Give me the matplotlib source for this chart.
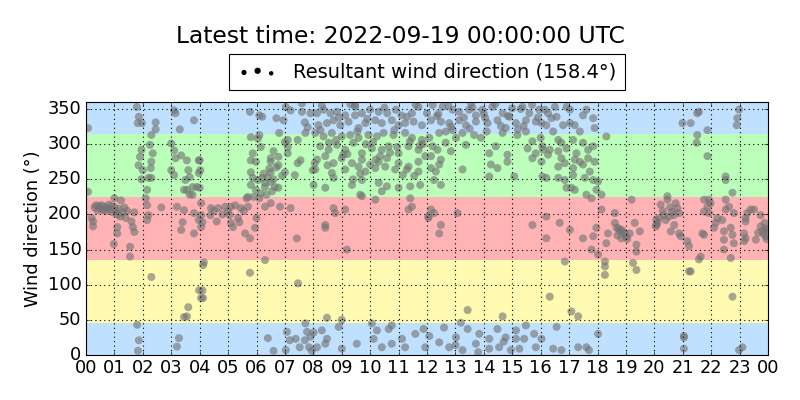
import matplotlib
matplotlib.use('Agg')
import matplotlib.pyplot as plt

# ---------------- data (hour of day, wind direction in degrees) ----------------
hours = [
    0.07, 0.07, 0.25, 0.25, 0.2, 0.3, 0.35, 0.4, 0.45, 0.5, 0.55, 0.6, 0.65, 0.7, 0.75, 0.8, 0.85, 0.9, 0.95, 0.98,
    1.0, 1.0, 1.05, 1.1, 1.1, 1.12, 1.15, 1.2, 1.23, 1.3, 1.35, 1.4, 1.45, 1.55, 1.55, 1.6, 1.65, 1.7, 1.7, 1.8,
    1.86, 1.83, 1.79, 1.86, 1.82,
    1.97, 1.95, 1.9, 1.85, 2.0, 1.95, 2.15, 2.1, 2.15, 2.2, 2.3, 2.28, 2.3, 2.35, 2.25, 2.3, 2.45, 2.45, 2.2, 2.15,
    2.3, 2.65,
    3.1, 3.15, 3.0, 3.1, 3.15, 3.35, 3.55, 3.0, 3.1, 3.5, 3.6, 3.65, 3.55, 3.45, 3.75, 3.65, 3.97, 3.97, 3.9, 3.75,
    3.2, 3.45, 3.8, 3.4, 3.35, 3.8, 3.97, 4.05, 3.6, 3.45, 3.55, 3.27, 3.2, 3.98, 4.05, 3.8, 3.3,
    4.0, 4.02, 4.0, 4.05, 4.1, 4.05, 4.4, 4.65, 4.9, 5.1, 5.45, 5.7, 5.65, 5.9, 4.38, 5.05, 5.1, 5.17, 5.35, 5.4,
    5.6, 5.77, 6.0, 5.95, 4.15, 4.12, 4.1, 4.12, 5.77, 6.3, 4.5, 4.8, 4.6, 5.0, 5.25, 5.55,
    5.8, 5.77, 6.1, 6.2, 6.05, 6.15, 6.1, 5.8, 5.87, 5.98, 6.5, 6.5, 6.77, 6.77, 6.7, 6.5, 5.8, 5.87, 6.05, 6.2,
    6.4, 6.5, 6.65, 6.77, 6.3, 6.15, 6.1, 6.5, 6.83, 6.3, 5.98, 5.8, 5.7, 6.7, 6.8, 6.95, 7.03, 7.0, 7.1, 7.1,
    7.1, 7.45, 7.45, 7.55, 7.35, 7.0, 7.2, 7.42, 7.46, 6.4, 6.6, 7.07, 7.17, 7.38, 7.52, 7.72, 7.78, 7.7, 7.9, 7.85,
    7.95, 7.03, 7.2, 7.6, 7.7, 7.72, 7.8, 7.6, 7.9, 8.05, 7.98, 6.3, 6.45, 6.6, 6.25, 6.55, 6.9, 6.35, 6.6,
    8.13, 8.36, 8.6, 8.83, 9.12, 9.47, 9.47, 9.71, 10.0, 10.3, 10.6, 10.9, 11.1, 11.47, 11.7, 12.0,
    8.18, 8.48, 8.71, 8.95, 9.24, 9.59, 9.83, 10.18, 10.41, 10.76, 11.0, 11.23, 11.53, 11.82,
    8.07, 8.36, 8.65, 9.0, 9.3, 9.59, 9.94, 10.24, 10.47, 10.82, 11.23, 11.47, 11.82,
    8.24, 8.54, 8.83, 9.12, 9.41, 9.71, 10.06, 10.41, 10.65, 11.0, 11.35, 11.7,
    8.13, 8.42, 8.71, 9.0, 9.36, 9.71, 10.0, 10.3, 10.59, 11.0, 11.35, 11.7, 11.94,
    8.07, 8.65, 9.12, 9.59, 9.83, 10.18, 10.53, 10.88, 11.29, 11.7,
    8.71, 9.71, 10.3, 11.0, 11.41, 11.76, 8.01, 8.42, 9.36, 9.65, 9.71, 10.18, 10.41, 10.59, 11.41, 11.47, 11.35,
    8.71, 8.77, 9.12, 8.42, 8.42, 9.18, 8.48, 9.0, 8.89, 8.01, 8.3, 8.48, 8.42, 8.13, 9.0, 9.53, 10.06, 10.24,
    10.12, 10.41, 10.65, 10.76, 10.76, 11.12, 11.23, 11.59, 11.88, 11.94, 12.05, 9.47,
    8.3, 8.9, 9.3, 9.9, 10.5, 11.3, 11.6, 8.55, 9.05, 9.65, 10.1, 10.7, 11.15, 11.85,
    8.25, 8.8, 9.2, 9.55, 9.85, 10.35, 10.85, 11.4, 11.75, 8.5, 9.4, 10.2, 10.95, 11.55,
    12.2, 12.55, 12.9, 13.13, 13.48, 13.72, 13.95, 14.3, 14.66, 15.0, 15.36, 15.6, 15.95,
    12.14, 12.49, 12.78, 13.13, 13.37, 13.72, 14.13, 14.48, 14.77, 15.13, 15.48, 15.83,
    12.08, 12.43, 12.66, 13.02, 13.25, 13.66, 13.9, 14.66, 15.18, 15.48, 15.71, 16.0,
    12.2, 12.37, 12.66, 12.84, 13.37, 14.19, 14.42, 14.83, 15.54, 15.83, 16.06,
    12.14, 12.49, 12.43, 12.14, 12.31, 12.25, 12.49, 13.25, 14.25, 14.48, 14.83, 14.19, 15.07, 15.71, 16.06,
    12.14, 12.25, 12.05, 13.07, 12.49, 12.43, 15.71, 13.43, 14.66,
    13.19, 12.6, 12.08, 12.43, 12.78, 13.02, 13.43, 13.84, 13.72, 14.19, 14.48, 14.77, 15.13, 15.48, 15.42,
    15.77, 15.83, 14.95, 15.25, 13.25, 14.19, 14.54, 15.13,
    12.35, 12.75, 13.3, 13.6, 14.0, 14.4, 14.9, 15.3, 15.7, 12.9, 13.5, 14.1, 14.6, 15.2,
    12.4, 12.85, 13.55, 14.05, 14.85, 15.4, 15.9, 13.0, 13.8, 14.7,
    16.15, 16.26, 16.5, 16.38, 16.56, 16.91, 17.03, 17.49, 17.61, 17.85, 17.9, 16.03, 16.2, 16.79, 17.03, 17.2,
    16.44, 17.38, 18.31, 16.62, 16.73, 17.14, 17.49, 17.85, 16.09, 16.32, 16.62, 16.91, 17.26, 17.67,
    16.03, 16.26, 16.73, 17.2, 17.38, 17.67, 17.9, 16.62, 16.85, 17.14, 17.49, 17.73,
    16.2, 16.62, 16.85, 17.14, 17.55, 17.85, 18.02, 16.91, 17.2, 17.08, 17.61, 17.79, 17.96, 18.14, 19.2,
    18.14, 18.61, 16.2, 16.67, 17.03, 17.49, 17.85, 17.96, 18.02, 17.79, 18.31, 18.37, 18.61, 18.67, 18.78,
    18.84, 18.96, 19.13, 19.31, 19.49, 19.37, 19.37, 19.25, 19.37, 18.26, 18.26, 18.26, 16.2, 16.85, 16.32,
    17.08, 17.32, 16.56, 18.02, 16.03, 16.44, 16.73, 17.32, 17.61, 17.7, 20.07, 20.07,
    18.7, 18.85, 19.0, 18.9, 19.05, 18.75,
    21.51, 21.57, 20.99, 21.28, 21.87, 21.51, 21.49, 21.87, 22.98, 22.92, 22.9, 22.51, 22.51, 22.75,
    20.46, 20.46, 20.22, 20.75, 20.81, 20.63, 20.34, 20.17, 20.11, 20.05, 20.52, 20.69, 20.87, 20.58, 20.87,
    20.93, 21.16, 21.22, 21.63, 21.57, 21.22, 21.75, 21.92, 21.98, 21.87, 21.75, 21.92, 22.22, 22.39, 22.16,
    22.1, 21.69, 21.75, 22.45, 22.45, 22.51, 22.51, 22.63, 22.8, 22.69, 22.75, 22.8, 22.45, 22.69,
    23.21, 23.27, 23.39, 23.51, 23.74, 23.21, 23.74, 23.8, 23.92, 23.98, 23.57, 23.16, 23.21, 23.16,
    22.75, 21.28, 21.04, 21.04, 21.04, 23.1, 22.98,
    20.3, 20.4, 20.55, 20.7, 23.85, 23.9, 23.95, 23.88, 23.65,
]

wind_dir = [
    323, 232, 190, 183, 195, 210, 213, 206, 212, 208, 213, 206, 211, 205, 209, 214, 207, 212, 203, 158,
    210, 223, 205, 182, 173, 200, 208, 197, 220, 203, 210, 195, 205, 154, 140, 190, 182, 203, 175, 43,
    21, 6, 353, 339, 330,
    330, 292, 282, 270, 263, 250, 235, 223, 213, 252, 252, 266, 275, 287, 299, 313, 321, 331, 199, 192,
    111, 210,
    348, 344, 301, 291, 280, 284, 277, 263, 256, 249, 263, 253, 235, 235, 239, 228, 277, 259, 239, 228,
    211, 206, 202, 189, 178, 173, 192, 182, 68, 54, 55, 24, 12, 92, 81, 334, 321,
    277, 263, 238, 199, 189, 216, 209, 209, 211, 211, 209, 211, 223, 225, 199, 199, 188, 182, 195, 189,
    173, 166, 195, 181, 132, 128, 92, 81, 117, 135, 205, 200, 190, 205, 213, 205,
    310, 346, 341, 339, 308, 296, 313, 277, 287, 275, 275, 280, 282, 270, 267, 260, 260, 252, 249, 252,
    253, 246, 239, 238, 239, 230, 223, 216, 211, 211, 235, 242, 225, 337, 316, 334, 353, 303, 306, 296,
    287, 306, 273, 277, 256, 260, 209, 166, 102, 24, 6, 33, 21, 23, 11, 45, 33, 21, 26, 11,
    6, 7, 348, 346, 331, 316, 324, 358, 344, 273, 263, 245, 265, 250, 258, 233, 255, 228, 290,
    344, 349, 344, 346, 341, 353, 341, 344, 349, 346, 344, 349, 341, 344, 353, 344,
    327, 330, 334, 327, 332, 323, 330, 334, 330, 334, 327, 330, 332, 327,
    316, 311, 316, 311, 313, 309, 313, 311, 316, 313, 316, 309, 306,
    297, 292, 299, 292, 302, 287, 294, 292, 297, 287, 297, 292,
    278, 283, 273, 280, 273, 278, 271, 275, 280, 273, 268, 275, 283,
    264, 259, 264, 268, 261, 266, 268, 264, 264, 261,
    252, 249, 245, 238, 240, 242, 242, 238, 242, 228, 226, 221, 233, 240, 223, 211, 207,
    209, 202, 207, 185, 181, 150, 53, 50, 40, 32, 35, 23, 16, 11, 9, 16, 45, 35,
    23, 11, 37, 42, 16, 23, 11, 30, 37, 11, 197, 356,
    355, 338, 357, 336, 352, 339, 356, 302, 285, 258, 303, 288, 256, 300,
    320, 306, 286, 318, 300, 283, 320, 304, 298, 270, 250, 278, 296, 255,
    356, 353, 349, 346, 349, 341, 349, 353, 344, 351, 353, 344, 349,
    334, 332, 330, 334, 327, 332, 330, 334, 323, 330, 334, 332,
    309, 316, 318, 309, 316, 313, 309, 316, 313, 318, 304, 309,
    297, 292, 302, 290, 299, 287, 297, 285, 294, 287, 297,
    283, 278, 271, 266, 261, 249, 242, 264, 271, 266, 275, 254, 254, 280, 254,
    207, 202, 195, 202, 185, 173, 185, 64, 55,
    46, 39, 27, 18, 11, 25, 37, 30, 16, 23, 37, 25, 35, 42, 23,
    30, 11, 7, 9, 7, 9, 11, 23,
    340, 355, 338, 352, 343, 357, 339, 350, 356, 320, 322, 318, 326, 321,
    343, 325, 358, 337, 340, 326, 338, 14, 4, 19,
    349, 344, 353, 337, 339, 353, 349, 341, 349, 337, 323, 330, 327, 327, 330, 327,
    318, 318, 311, 306, 302, 306, 302, 297, 292, 292, 290, 294, 287, 292,
    275, 285, 280, 278, 275, 280, 275, 268, 273, 266, 271, 261,
    252, 252, 249, 256, 252, 249, 247, 238, 235, 238, 228, 223, 235, 228, 221,
    207, 202, 197, 188, 178, 166, 169, 181, 143, 150, 159, 173, 188, 181, 176,
    166, 173, 173, 188, 176, 157, 147, 131, 121, 133, 126, 114, 166, 133, 83,
    62, 55, 40, 30, 23, 9, 7, 11, 11, 7, 192, 185,
    170, 178, 168, 175, 165, 180,
    344, 346, 330, 330, 320, 313, 302, 283, 349, 337, 327, 254, 249, 231,
    226, 221, 214, 216, 209, 204, 199, 195, 188, 183, 197, 199, 202, 176, 173,
    169, 162, 155, 140, 136, 119, 221, 221, 216, 211, 204, 202, 195, 192, 188,
    181, 173, 171, 176, 164, 221, 207, 211, 202, 181, 171, 159, 150, 138,
    190, 202, 207, 207, 199, 195, 183, 176, 169, 178, 164, 173, 166, 162,
    83, 119, 25, 27, 9, 11, 7,
    205, 192, 210, 185, 172, 180, 165, 188, 174,
]

resultant_direction = 158.4
band_edges = [0, 45, 135, 225, 315, 360]
band_colors = ['#bfe1ff', '#fffbb3', '#ffb3b5', '#bbffbb', '#bfe1ff']
hour_labels = ['%02d' % (h % 24) for h in range(25)]
title_text = 'Latest time: 2022-09-19 00:00:00 UTC'

# ---------------- plot ----------------
plt.style.use('classic')
fig = plt.figure(figsize=(10, 5), dpi=80)
fig.patch.set_facecolor('white')
ax = fig.add_axes([0.1075, 0.1125, 0.8525, 0.6325])

for lo, hi, col in zip(band_edges[:-1], band_edges[1:], band_colors):
    ax.axhspan(lo, hi, color=col, lw=0, zorder=0)

ax.scatter(hours, wind_dir, s=52, c='#737373', alpha=0.62, edgecolors='none', zorder=2,
           label='Resultant wind direction (%.1f°)' % resultant_direction)

ax.set_xlim(0, 24)
ax.set_ylim(0, 360)
ax.set_xticks(range(25))
ax.set_xticklabels(hour_labels)
ax.set_yticks(range(0, 351, 50))
ax.tick_params(labelsize=16)
ax.grid(True, color='k', linestyle=':', linewidth=1)
ax.set_ylabel('Wind direction (°)', fontsize=16)

leg = ax.legend(loc='lower center', bbox_to_anchor=(0.5, 1.0), scatterpoints=3,
                fontsize=17.5, borderaxespad=0.6, borderpad=0.45, fancybox=False)
h = leg.legend_handles[0]
h.set_facecolor('k')
h.set_alpha(1)
h.set_sizes([22, 32, 16])

fig.text(0.5, 0.908, title_text, ha='center', va='center', fontsize=21)

fig.savefig('out.png', dpi=80, facecolor='white')
